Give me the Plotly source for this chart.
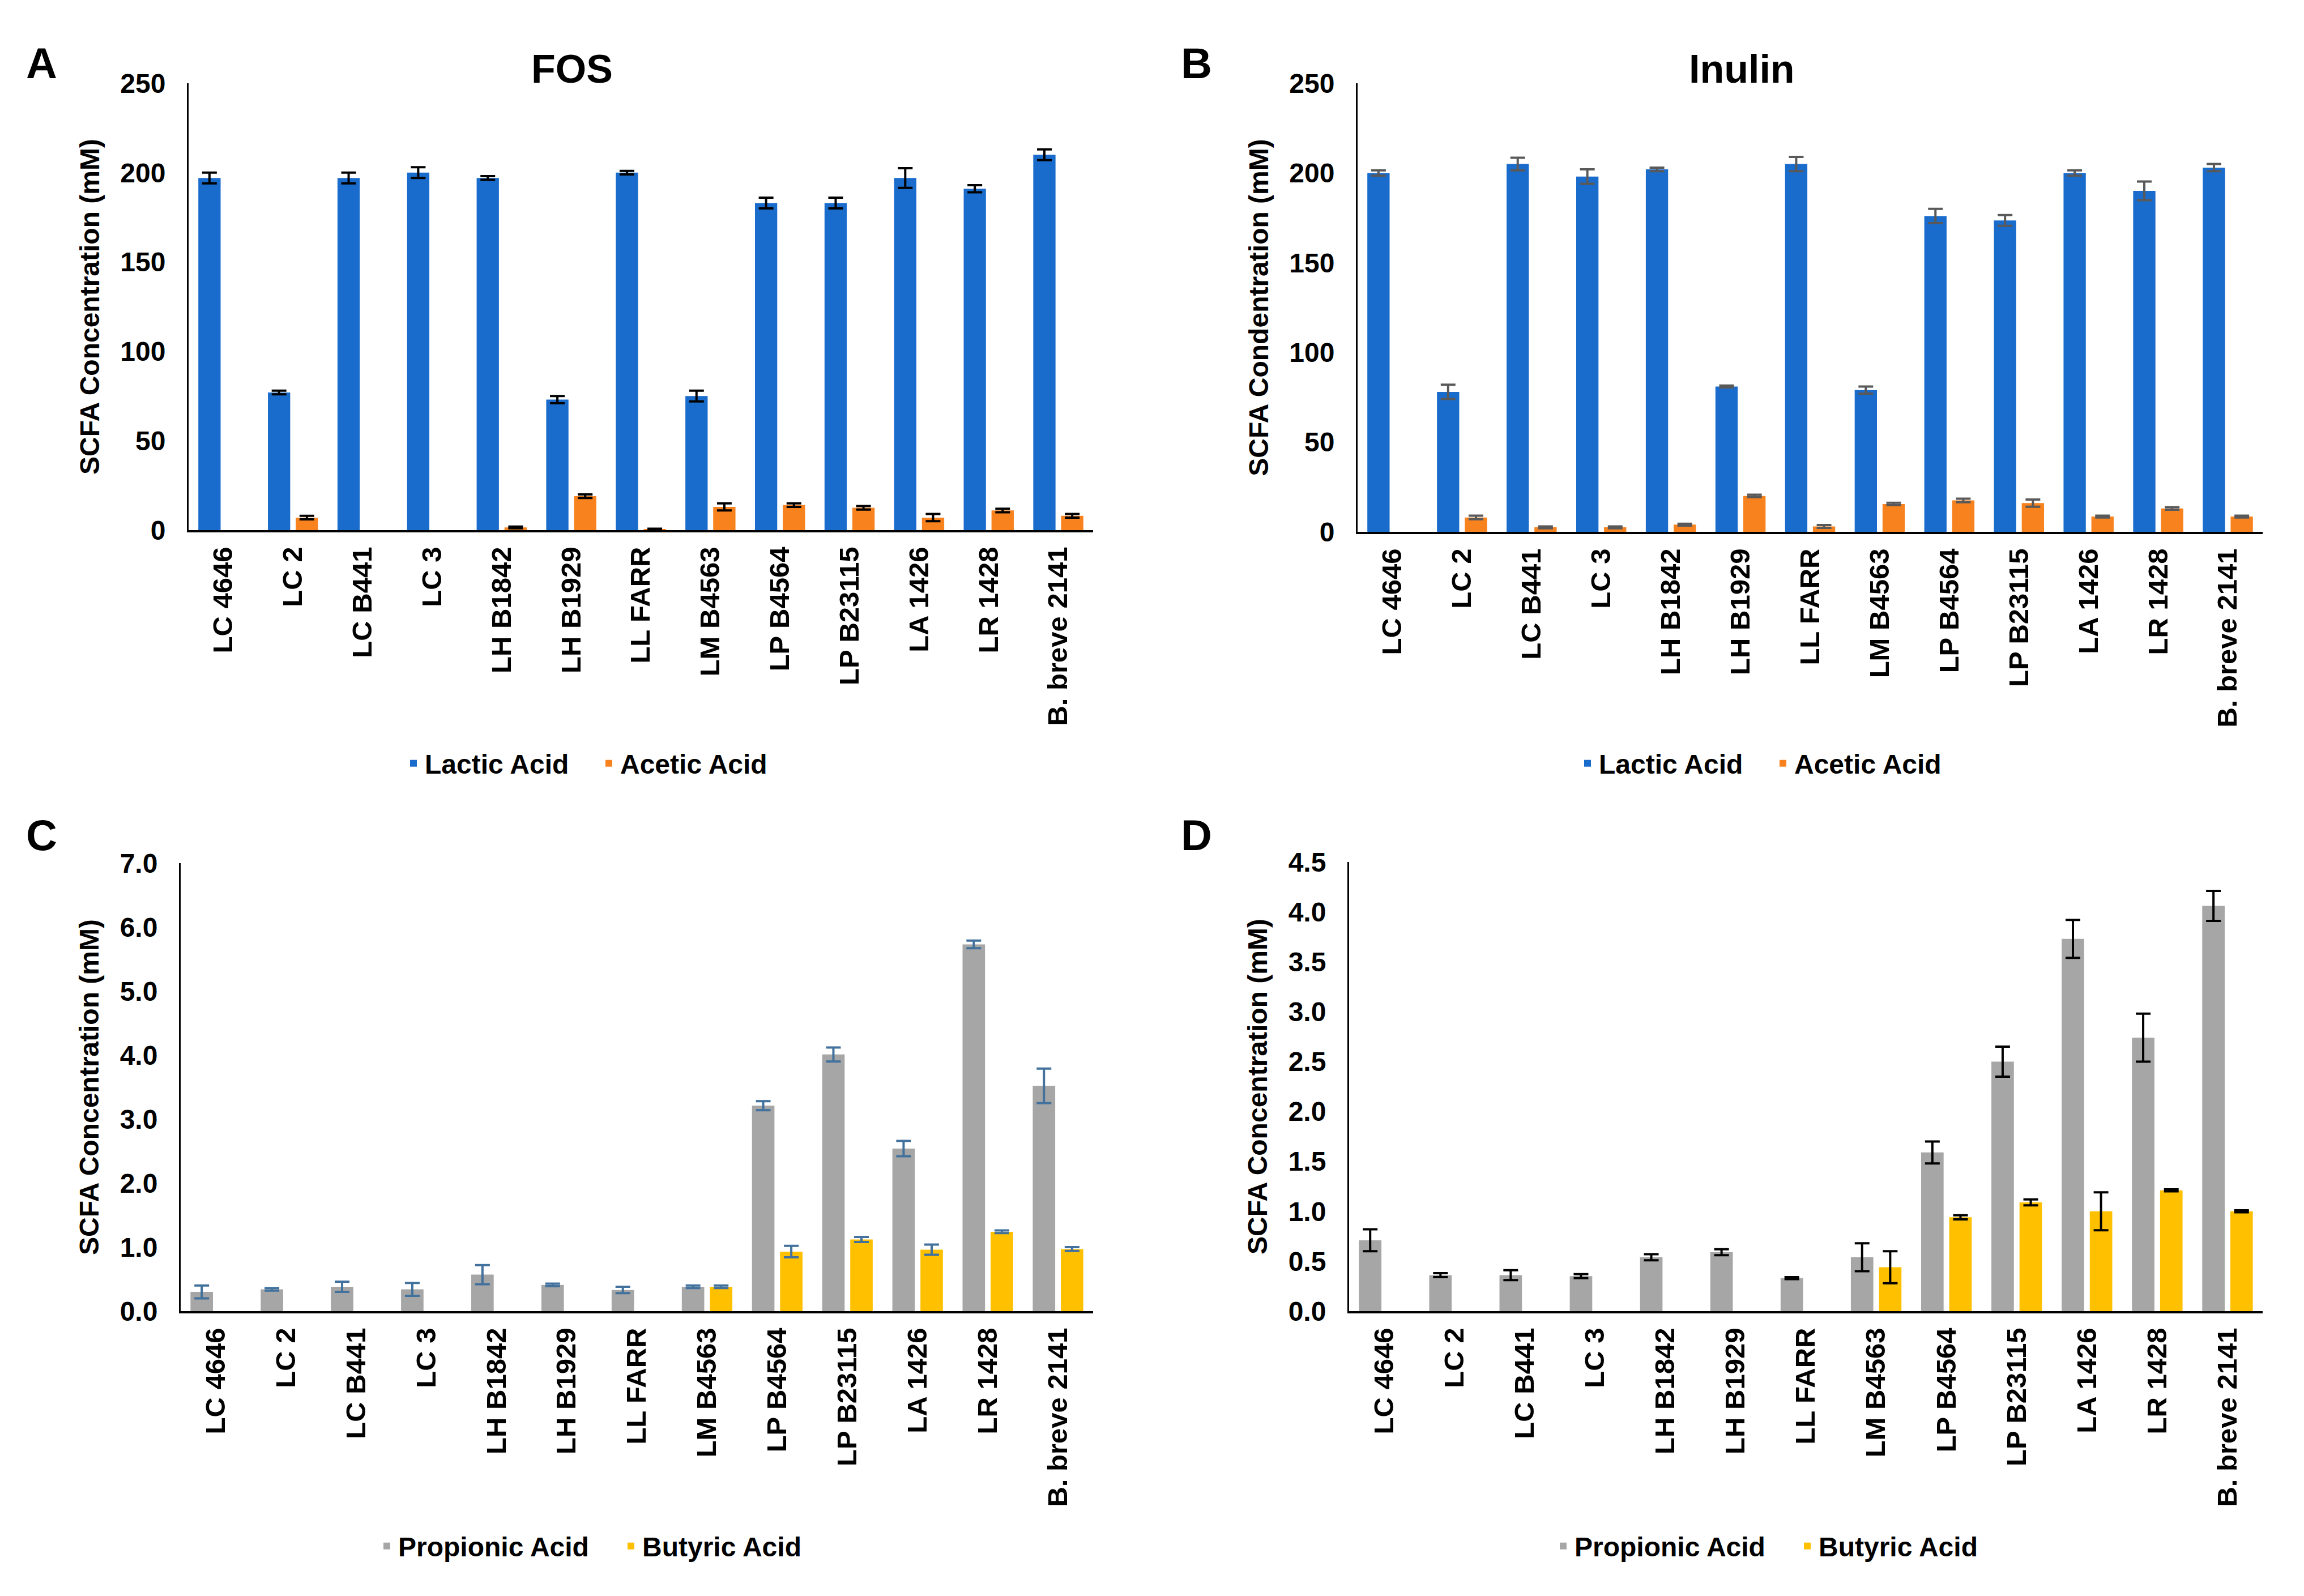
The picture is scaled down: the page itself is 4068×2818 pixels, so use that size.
import plotly.graph_objects as go

strains = ["LC 4646", "LC 2", "LC B441", "LC 3", "LH B1842", "LH B1929", "LL FARR",
           "LM B4563", "LP B4564", "LP B23115", "LA 1426", "LR 1428", "B. breve 2141"]

# Panel A - FOS
fos_lactic = [197, 77, 197, 200, 197, 73, 200, 75, 183, 183, 197, 191, 210]
fos_lactic_err = [3, 1, 3, 3, 1, 2, 1, 3, 3, 3, 5.5, 2, 3]
fos_acetic = [None, 7, None, None, 1.5, 19, 0.5, 13, 14, 12.5, 7, 11, 8]
fos_acetic_err = [0, 1, 0, 0, 0.5, 1, 0.3, 2, 1, 1, 2, 1, 1]

# Panel B - Inulin
inu_lactic = [200, 78, 205, 198, 202, 81, 205, 79, 176, 173.5, 200, 190, 203]
inu_lactic_err = [1.5, 4, 3.5, 4, 1, 0.5, 4, 2, 4, 3, 1.5, 5.2, 2]
inu_acetic = [None, 8, 2.5, 2.5, 4, 20, 3, 15.5, 17.5, 16, 8.5, 13, 8.5]
inu_acetic_err = [0, 1, 0.5, 0.5, 0.5, 0.7, 0.8, 0.7, 1, 2, 0.5, 0.7, 0.5]

# Panel C - FOS propionic / butyric
fos_prop = [0.30, 0.34, 0.38, 0.34, 0.57, 0.41, 0.33, 0.38, 3.21, 4.01, 2.54, 5.73, 3.52]
fos_prop_err = [0.1, 0.02, 0.08, 0.1, 0.15, 0.02, 0.05, 0.02, 0.07, 0.11, 0.12, 0.06, 0.27]
fos_but = [None, None, None, None, None, None, None, 0.38, 0.93, 1.12, 0.96, 1.24, 0.97]
fos_but_err = [0, 0, 0, 0, 0, 0, 0, 0.02, 0.09, 0.04, 0.08, 0.02, 0.03]

# Panel D - Inulin propionic / butyric
inu_prop = [0.71, 0.36, 0.36, 0.35, 0.54, 0.59, 0.33, 0.54, 1.59, 2.50, 3.73, 2.74, 4.06]
inu_prop_err = [0.11, 0.02, 0.05, 0.02, 0.03, 0.03, 0.01, 0.14, 0.11, 0.15, 0.19, 0.24, 0.15]
inu_but = [None, None, None, None, None, None, None, 0.44, 0.94, 1.09, 1.00, 1.21, 1.00]
inu_but_err = [0, 0, 0, 0, 0, 0, 0, 0.16, 0.02, 0.03, 0.19, 0.01, 0.01]

BLUE = "#1a6ccc"
ORANGE = "#f7821e"
GRAY = "#a6a6a6"
YELLOW = "#ffc000"

FONT = "Liberation Sans, Arial, sans-serif"
W, H = 4068, 2818
OFF = 8  # page body offset


def fx(p):
    return (p - OFF) / W


def fy(p):
    return 1 - (p - OFF) / H


fig = go.Figure()

panels = [
    ("x", "y", "legend", [("Lactic Acid", fos_lactic, fos_lactic_err, BLUE),
                          ("Acetic Acid", fos_acetic, fos_acetic_err, ORANGE)], "#000000"),
    ("x2", "y2", "legend2", [("Lactic Acid", inu_lactic, inu_lactic_err, BLUE),
                             ("Acetic Acid", inu_acetic, inu_acetic_err, ORANGE)], "#595959"),
    ("x3", "y3", "legend3", [("Propionic Acid", fos_prop, fos_prop_err, GRAY),
                             ("Butyric Acid", fos_but, fos_but_err, YELLOW)], "#41719c"),
    ("x4", "y4", "legend4", [("Propionic Acid", inu_prop, inu_prop_err, GRAY),
                             ("Butyric Acid", inu_but, inu_but_err, YELLOW)], "#000000"),
]

for xa, ya, lg, series, ecol in panels:
    for name, vals, errs, col in series:
        fig.add_trace(go.Bar(
            x=strains, y=vals, name=name, xaxis=xa, yaxis=ya, legend=lg,
            marker=dict(color=col, line=dict(width=0)),
            error_y=dict(type="data", array=errs, visible=True, color=ecol,
                         thickness=4, width=13),
        ))

domains = {
    "A": dict(x=[fx(333), fx(1930)], y=[fy(936), fy(147)]),
    "B": dict(x=[fx(2397), fx(3995)], y=[fy(939), fy(147)]),
    "C": dict(x=[fx(319), fx(1930)], y=[fy(2315), fy(1524)]),
    "D": dict(x=[fx(2382), fx(3995)], y=[fy(2315), fy(1522)]),
}

tickfont = dict(family=FONT, size=48, color="#000000", weight="bold")
catfont = dict(family=FONT, size=49, color="#000000", weight="bold")
titlefont = dict(family=FONT, size=48, color="#000000", weight="bold")

yspecs = {
    "A": dict(range=[0, 250], dtick=50, tickformat="d", title="SCFA Concentration (mM)"),
    "B": dict(range=[0, 250], dtick=50, tickformat="d", title="SCFA Condentration (mM)"),
    "C": dict(range=[0, 7], dtick=1, tickformat=".1f", title="SCFA Concentration (mM)"),
    "D": dict(range=[0, 4.5], dtick=0.5, tickformat=".1f", title="SCFA Concentration (mM)"),
}

layout_axes = {}
for i, key in enumerate(["A", "B", "C", "D"]):
    sfx = "" if i == 0 else str(i + 1)
    d = domains[key]
    ys = yspecs[key]
    layout_axes["xaxis" + sfx] = dict(
        domain=d["x"], anchor="y" + sfx, type="category", automargin=False,
        showline=True, linecolor="#000000", linewidth=4,
        showgrid=False, ticks="", tickangle=-90, tickfont=catfont,
        ticklabelstandoff=6, zeroline=False,
    )
    layout_axes["yaxis" + sfx] = dict(
        domain=d["y"], anchor="x" + sfx, range=ys["range"], dtick=ys["dtick"],
        tickformat=ys["tickformat"], tick0=0, automargin=False,
        showline=True, linecolor="#000000", linewidth=3,
        showgrid=False, ticks="", tickfont=tickfont, zeroline=False,
        ticklabelstandoff=28,
        title=dict(text=ys["title"], font=titlefont, standoff=22),
    )

legend_base = dict(orientation="h", xanchor="center", yanchor="middle",
                   font=dict(family=FONT, size=48, color="#000000", weight="bold"),
                   bgcolor="rgba(0,0,0,0)", itemwidth=30, traceorder="normal",
                   entrywidthmode="pixels")

fig.update_layout(
    width=W, height=H,
    margin=dict(l=0, r=0, t=0, b=0, autoexpand=False),
    paper_bgcolor="white", plot_bgcolor="white",
    barmode="group", bargap=0.2, bargroupgap=0.2,
    font=dict(family=FONT, color="#000000"),
    legend=dict(legend_base, x=fx(1055), y=fy(1348), entrywidth=300),
    legend2=dict(legend_base, x=fx(3128), y=fy(1348), entrywidth=300),
    legend3=dict(legend_base, x=fx(1094), y=fy(2730), entrywidth=386),
    legend4=dict(legend_base, x=fx(3171), y=fy(2730), entrywidth=386),
    **layout_axes,
)

ann = []
for txt, xp, yp in [("A", 73, 112), ("B", 2112, 112), ("C", 73, 1474), ("D", 2112, 1474)]:
    ann.append(dict(text=txt, x=fx(xp), y=fy(yp), xref="paper", yref="paper",
                    showarrow=False, xanchor="center", yanchor="middle",
                    font=dict(family=FONT, size=76, color="#000000", weight="bold")))
for txt, xp, yp in [("FOS", 1010, 122), ("Inulin", 3075, 122)]:
    ann.append(dict(text=txt, x=fx(xp), y=fy(yp), xref="paper", yref="paper",
                    showarrow=False, xanchor="center", yanchor="middle",
                    font=dict(family=FONT, size=70, color="#000000", weight="bold")))
fig.update_layout(annotations=ann)

fig.write_html("out.html")
